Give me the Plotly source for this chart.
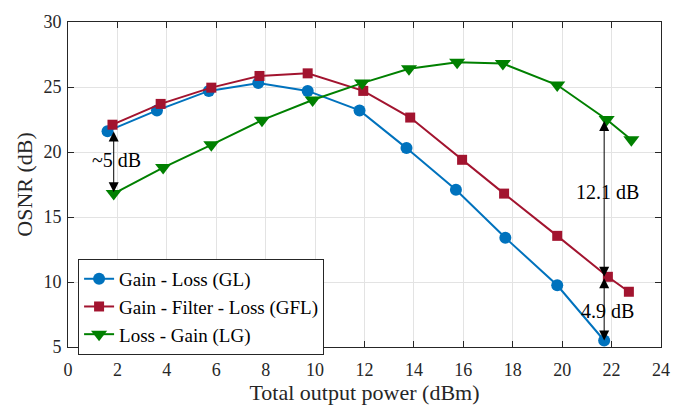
import plotly.graph_objects as go

# OSNR versus total output power for three amplifier/loss arrangements
power_gl = [1.6, 3.6, 5.7, 7.7, 9.7, 11.8, 13.7, 15.7, 17.7, 19.8, 21.7]
osnr_gl = [21.6, 23.2, 24.7, 25.3, 24.7, 23.2, 20.3, 17.1, 13.4, 9.75, 5.5]

power_gfl = [1.8, 3.75, 5.8, 7.75, 9.7, 11.95, 13.85, 15.95, 17.65, 19.8, 21.85, 22.7]
osnr_gfl = [22.1, 23.7, 24.95, 25.85, 26.05, 24.7, 22.65, 19.4, 16.8, 13.55, 10.4, 9.25]

power_lg = [1.85, 3.85, 5.8, 7.85, 9.9, 11.9, 13.8, 15.75, 17.6, 19.8, 21.8, 22.8]
osnr_lg = [16.8, 18.8, 20.55, 22.45, 24.0, 25.3, 26.4, 26.9, 26.8, 25.15, 22.5, 20.95]

series_names = ["Gain - Loss (GL)", "Gain - Filter - Loss (GFL)", "Loss - Gain (LG)"]

x_ticks = list(range(0, 25, 2))
y_ticks = list(range(5, 31, 5))

FONT = "'Liberation Serif', 'Times New Roman', Times, serif"

fig = go.Figure()
fig.add_trace(go.Scatter(x=power_gl, y=osnr_gl, mode="lines+markers", name=series_names[0],
                         line=dict(color="#0072BD", width=2),
                         marker=dict(symbol="circle", size=12, color="#0072BD")))
fig.add_trace(go.Scatter(x=power_gfl, y=osnr_gfl, mode="lines+markers", name=series_names[1],
                         line=dict(color="#A2142F", width=2),
                         marker=dict(symbol="square", size=10, color="#A2142F")))
fig.add_trace(go.Scatter(x=power_lg, y=osnr_lg, mode="lines+markers", name=series_names[2],
                         line=dict(color="#008000", width=2),
                         marker=dict(symbol="triangle-down", size=14, color="#008000")))


def double_arrow(x, y_from, y_to):
    fig.add_annotation(x=x, y=y_to, ax=x, ay=y_from, xref="x", yref="y",
                       axref="x", ayref="y", text="", showarrow=True,
                       arrowhead=2, startarrowhead=2, arrowside="end+start",
                       arrowsize=2, startarrowsize=2,
                       arrowwidth=1, arrowcolor="black")


# OSNR gaps between configurations
double_arrow(power_gl[0] + 0.25, osnr_gl[0] + 0.1, osnr_lg[0] + 0.1)
double_arrow(power_gl[-1], osnr_lg[-2], osnr_gfl[-2])
double_arrow(power_gl[-1], osnr_gfl[-2], osnr_gl[-1])

label_font = dict(family=FONT, size=20, color="black")
fig.add_annotation(x=1.95, y=19.4, text="~5 dB", showarrow=False, font=label_font)
fig.add_annotation(x=21.85, y=16.9, text="12.1 dB", showarrow=False, font=label_font)
fig.add_annotation(x=21.85, y=7.8, text="4.9 dB", showarrow=False, font=label_font)

axis_common = dict(showline=True, linecolor="#262626", linewidth=1, mirror="ticks",
                   ticks="inside", ticklen=6, tickcolor="#262626",
                   showgrid=True, gridcolor="#e3e3e3", gridwidth=1, zeroline=False,
                   tickfont=dict(family=FONT, size=18, color="#262626"))

fig.update_xaxes(range=[0, 24], tickvals=x_ticks, ticklabelstandoff=6,
                 title=dict(text="Total output power (dBm)", standoff=2,
                            font=dict(family=FONT, size=22, color="#262626")),
                 **axis_common)
fig.update_yaxes(range=[5, 30], tickvals=y_ticks, ticklabelstandoff=2,
                 title=dict(text="OSNR (dB)", standoff=4,
                            font=dict(family=FONT, size=22, color="#262626")),
                 **axis_common)

fig.update_layout(
    width=698, height=409,
    margin=dict(l=68, r=37, t=15, b=62),
    plot_bgcolor="white", paper_bgcolor="white",
    font=dict(family=FONT, size=18, color="black"),
    legend=dict(x=0.017, y=0.271, xanchor="left", yanchor="top",
                bgcolor="white", bordercolor="#262626", borderwidth=1,
                font=dict(family=FONT, size=19, color="black"),
                tracegroupgap=0),
    showlegend=True,
)

fig.write_html("out.html")
